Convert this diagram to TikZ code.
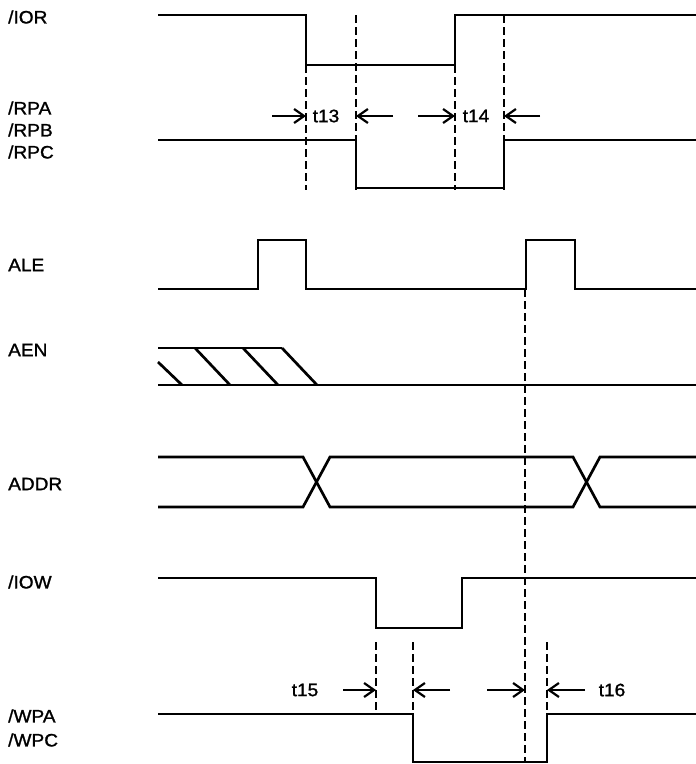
\documentclass[tikz,border=0pt]{standalone}
\usepackage{fontspec}
\setmainfont[FakeBold=1.3,FakeStretch=1.06]{Liberation Sans}
\usetikzlibrary{arrows.meta, positioning}

\begin{document}
\begin{tikzpicture}[x=1pt, y=-1pt, line join=miter]
        \tikzset{
          sig/.style={line width=2.7pt},
          guide/.style={line width=1.3pt, dash pattern=on 8pt off 4pt},
          meas/.style={line width=1.1pt, -{Straight Barb[length=10pt,width=14pt,line width=2.2pt]}},
          lbl/.style={anchor=west, inner sep=0pt, font=\fontsize{18}{20}\selectfont},
          tlbl/.style={inner sep=0pt, font=\fontsize{18}{20}\selectfont}
        }
        \useasboundingbox (0,0) rectangle (696,764);

        % signal names
        \node[lbl] (l_ior) at (8,17) {/IOR};
        \node[lbl] (l_rpa) at (8,108) {/RPA};
        \node[lbl] (l_rpb) at (8,130) {/RPB};
        \node[lbl] (l_rpc) at (8,152) {/RPC};
        \node[lbl] (l_ale) at (8,265) {ALE};
        \node[lbl] (l_aen) at (8,350) {AEN};
        \node[lbl] (l_addr) at (8,484) {ADDR};
        \node[lbl] (l_iow) at (8,582) {/IOW};
        \node[lbl] (l_wpa) at (8,716) {/WPA};
        \node[lbl] (l_wpc) at (8,740) {/WPC};

        % waveforms
        \draw[sig] (158,15) -| (306,65) -| (455,15) -- (696,15);
        \draw[sig] (158,140) -| (356,188) -| (504,140) -- (696,140);
        \draw[sig] (158,289) -| (258,240) -| (306,289) -| (526,240) -| (575,289) -- (696,289);
        \draw[sig] (158,348) -- (282,348);
        \draw[sig] (158,385) -- (696,385);
        \foreach \x in {195,243,282}
          \draw[sig] (\x,348) -- ++(35,37);
        \draw[sig] (158,362) -- (182,385);
        \draw[sig] (158,457) -- (303,457) -- (330,507) -- (573,507) -- (600,457) -- (696,457);
        \draw[sig] (158,507) -- (303,507) -- (330,457) -- (573,457) -- (600,507) -- (696,507);
        \draw[sig] (158,578) -| (376,628) -| (462,578) -- (696,578);
        \draw[sig] (158,714) -| (413,762) -| (547,714) -- (696,714);

        % edge markers
        \coordinate (m13a) at (306,116);
        \coordinate (m13b) at (356,116);
        \coordinate (m14a) at (455,116);
        \coordinate (m14b) at (504,116);
        \coordinate (m15a) at (376,690);
        \coordinate (m15b) at (413,690);
        \coordinate (m16a) at (525,690);
        \coordinate (m16b) at (547,690);

        \draw[guide] (306,65) -- (306,190);
        \draw[guide] (356,15) -- (356,190);
        \draw[guide] (455,65) -- (455,190);
        \draw[guide] (504,15) -- (504,190);
        \draw[guide] (525,289) -- (525,762);
        \draw[guide] (376,642) -- (376,714);
        \draw[guide] (413,642) -- (413,714);
        \draw[guide] (547,642) -- (547,714);

        \draw[meas] ([xshift=-34pt]m13a) -- (m13a);
        \draw[meas] ([xshift=37pt]m13b) -- (m13b);
        \draw[meas] ([xshift=-37pt]m14a) -- (m14a);
        \draw[meas] ([xshift=36pt]m14b) -- (m14b);
        \draw[meas] ([xshift=-33pt]m15a) -- (m15a);
        \draw[meas] ([xshift=37pt]m15b) -- (m15b);
        \draw[meas] ([xshift=-38pt]m16a) -- (m16a);
        \draw[meas] ([xshift=38pt]m16b) -- (m16b);

        \node[tlbl] (t13) at (326,116) {t13};
        \node[tlbl] (t14) at (476,116) {t14};
        \node[tlbl] (t15) at (305,690) {t15};
        \node[tlbl] (t16) at (612,690) {t16};
\end{tikzpicture}
\end{document}
